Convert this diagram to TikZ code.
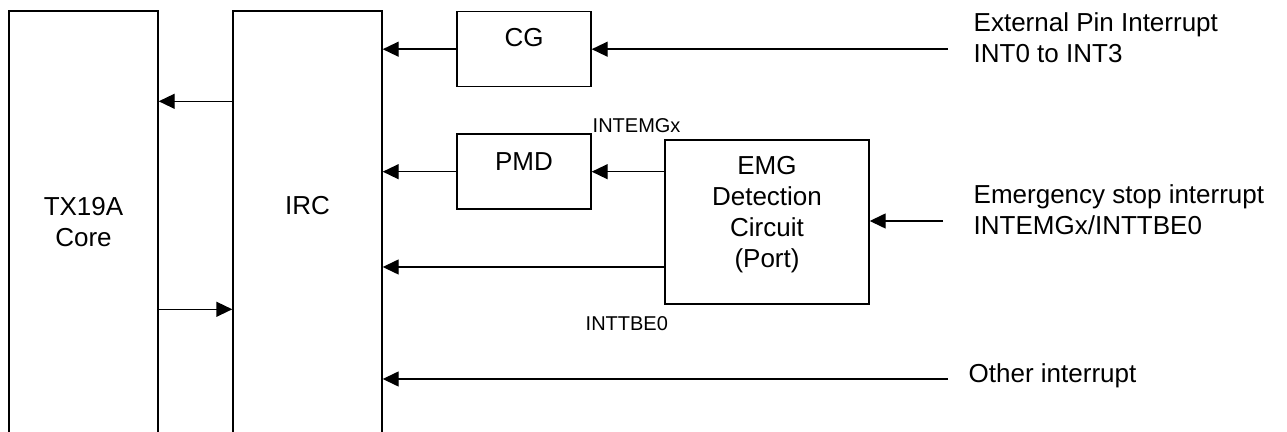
\documentclass[tikz,border=0pt]{standalone}
\usepackage{fontspec}
\setmainfont{Liberation Sans}
\usepackage{tikz}
\usetikzlibrary{positioning,arrows.meta}

\begin{document}
\begin{tikzpicture}[x=0.5pt,y=-0.5pt,line width=0.7pt,
    every node/.style={inner sep=0pt,font=\fontsize{13}{15.5}\selectfont},
    blk/.style={draw,align=center},
    tall/.style={blk,minimum width=74.5pt,minimum height=211pt},
    small/.style={font=\fontsize{10}{12}\selectfont},
    arr/.style={-{Triangle[length=8pt,width=7.5pt]}}]
    \clip (0,0) rectangle (1287,432);
    \node[tall] (Core) at (83.5,222) {TX19A\\Core};
    \node[tall,text depth=17pt] (IRC) at (307.5,222) {IRC};
    \node[blk,minimum width=67pt,minimum height=37.5pt,text depth=11.7pt] (CG) at (524,49.2) {CG};
    \node[blk,minimum width=67pt,minimum height=37.5pt,text depth=10pt] (PMD) at (524,171.7) {PMD};
    \node[blk,minimum width=102pt,minimum height=82pt,text depth=10pt] (EMG) at (767,222) {EMG\\Detection\\Circuit\\(Port)};
    \node[anchor=west,align=left] (ExtIn) at (973,37.5) {External Pin Interrupt\\INT0 to INT3};
    \node[anchor=west,align=left] (EmgIn) at (973,210) {Emergency stop interrupt\\INTEMGx/INTTBE0};
    \node[anchor=base west] (OtherIn) at (968,383) {Other interrupt};
    \node[small,anchor=base west] (IntEmg) at (592,133) {INTEMGx};
    \node[small,anchor=base west] (IntTbe) at (585,331) {INTTBE0};
    \coordinate (extSrc) at (948,49);
    \coordinate (emgSrc) at (943,221);
    \coordinate (otherSrc) at (948,379);
    \draw[arr] (extSrc |- CG.east) -- (CG.east);
    \draw[arr] (CG.west) -- (CG.west -| IRC.east);
    \draw[arr] (PMD.west) -- (PMD.west -| IRC.east);
    \draw[arr] (PMD.east -| EMG.west) -- (PMD.east);
    \draw[arr] ([yshift=-22.5pt]EMG.west) -- ([yshift=-22.5pt]EMG.west -| IRC.east);
    \draw[arr] (emgSrc) -- (emgSrc -| EMG.east);
    \draw[arr] (otherSrc) -- (otherSrc -| IRC.east);
    \draw[arr] ([yshift=-45.5pt]IRC.north west) -- ([yshift=-45.5pt]Core.north east);
    \draw[arr] ([yshift=-149.5pt]Core.north east) -- ([yshift=-149.5pt]IRC.north west);
  \end{tikzpicture}
\end{document}
